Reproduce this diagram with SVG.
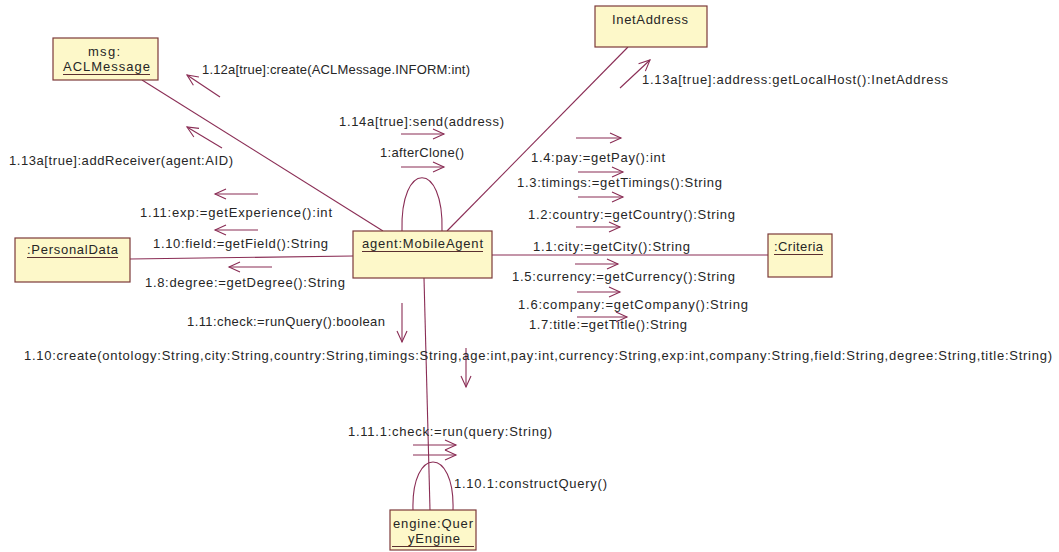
<svg xmlns="http://www.w3.org/2000/svg" width="1059" height="552" viewBox="0 0 1059 552">
  <style>
    .box { fill: #fdf8c9; stroke: #7c3a3a; stroke-width: 1.2; }
    .lnk { fill: none; stroke: #8a2d55; stroke-width: 1.1; }
    .msg { fill: none; stroke: #8a2d55; stroke-width: 1.1; marker-end: url(#open); }
    .ul { stroke: #5a3030; stroke-width: 1; }
    text { font-family: "Liberation Sans", Arial, sans-serif; font-size: 13px; fill: #262626; }
  </style>
  <defs>
    <marker id="open" markerWidth="14" markerHeight="12" refX="12" refY="6" orient="auto" markerUnits="userSpaceOnUse">
      <path d="M1,1 L12,6 L1,11" fill="none" stroke="#8a2d55" stroke-width="1.1"/>
    </marker>
  </defs>
  <rect width="1059" height="552" fill="#ffffff"/>

  <!-- links between objects -->
  <g id="links">
    <line class="lnk" x1="142" y1="80" x2="383" y2="231"/>
    <line class="lnk" x1="628" y1="47" x2="447" y2="231"/>
    <line class="lnk" x1="130" y1="259" x2="353" y2="256"/>
    <line class="lnk" x1="492" y1="255" x2="768" y2="255"/>
    <line class="lnk" x1="424" y1="278" x2="430" y2="510"/>
    <path class="lnk" d="M402,231 C400,160 444,160 442,231"/>
    <path class="lnk" d="M413,510 C411,446 455,446 453,510"/>
  </g>

  <!-- message arrows -->
  <g id="messages">
    <line class="msg" x1="220" y1="97" x2="187" y2="75"/>
    <line class="msg" x1="222" y1="148" x2="187" y2="127"/>
    <line class="msg" x1="620" y1="88" x2="650" y2="60"/>
    <line class="msg" x1="401" y1="134" x2="444" y2="134"/>
    <line class="msg" x1="401" y1="167" x2="444" y2="167"/>
    <line class="msg" x1="576" y1="138" x2="621" y2="138"/>
    <line class="msg" x1="578" y1="172" x2="623" y2="172"/>
    <line class="msg" x1="578" y1="197" x2="623" y2="197"/>
    <line class="msg" x1="576" y1="227" x2="620" y2="227"/>
    <line class="msg" x1="575" y1="264" x2="618" y2="264"/>
    <line class="msg" x1="577" y1="292" x2="620" y2="292"/>
    <line class="msg" x1="577" y1="317" x2="627" y2="317"/>
    <line class="msg" x1="258" y1="194" x2="215" y2="194"/>
    <line class="msg" x1="258" y1="230" x2="215" y2="230"/>
    <line class="msg" x1="272" y1="267" x2="229" y2="267"/>
    <line class="msg" x1="402" y1="303" x2="402" y2="342"/>
    <line class="msg" x1="466" y1="348" x2="466" y2="387"/>
    <line class="msg" x1="413" y1="445" x2="456" y2="445"/>
    <line class="msg" x1="413" y1="455" x2="456" y2="455"/>
  </g>

  <!-- message labels -->
  <g id="labels">
    <text x="202" y="74" textLength="268" lengthAdjust="spacing">1.12a[true]:create(ACLMessage.INFORM:int)</text>
    <text x="9" y="165" textLength="224" lengthAdjust="spacing">1.13a[true]:addReceiver(agent:AID)</text>
    <text x="642" y="84" textLength="306" lengthAdjust="spacing">1.13a[true]:address:getLocalHost():InetAddress</text>
    <text x="339" y="126" textLength="165" lengthAdjust="spacing">1.14a[true]:send(address)</text>
    <text x="380" y="157" textLength="84" lengthAdjust="spacing">1:afterClone()</text>
    <text x="531" y="162" textLength="134" lengthAdjust="spacing">1.4:pay:=getPay():int</text>
    <text x="517" y="187" textLength="205" lengthAdjust="spacing">1.3:timings:=getTimings():String</text>
    <text x="528" y="219" textLength="207" lengthAdjust="spacing">1.2:country:=getCountry():String</text>
    <text x="533" y="251" textLength="157" lengthAdjust="spacing">1.1:city:=getCity():String</text>
    <text x="512" y="281" textLength="223" lengthAdjust="spacing">1.5:currency:=getCurrency():String</text>
    <text x="518" y="309" textLength="230" lengthAdjust="spacing">1.6:company:=getCompany():String</text>
    <text x="529" y="329" textLength="158" lengthAdjust="spacing">1.7:title:=getTitle():String</text>
    <text x="140" y="217" textLength="192" lengthAdjust="spacing">1.11:exp:=getExperience():int</text>
    <text x="153" y="248" textLength="175" lengthAdjust="spacing">1.10:field:=getField():String</text>
    <text x="145" y="287" textLength="200" lengthAdjust="spacing">1.8:degree:=getDegree():String</text>
    <text x="187" y="326" textLength="198" lengthAdjust="spacing">1.11:check:=runQuery():boolean</text>
    <text x="24" y="360" textLength="1028" lengthAdjust="spacing">1.10:create(ontology:String,city:String,country:String,timings:String,age:int,pay:int,currency:String,exp:int,company:String,field:String,degree:String,title:String)</text>
    <text x="348" y="436" textLength="204" lengthAdjust="spacing">1.11.1:check:=run(query:String)</text>
    <text x="454" y="488" textLength="153" lengthAdjust="spacing">1.10.1:constructQuery()</text>
  </g>

  <!-- objects -->
  <g id="msg">
    <rect class="box" x="53" y="38" width="105" height="42"/>
    <text x="88" y="56" textLength="32" lengthAdjust="spacing">msg:</text>
    <text x="63" y="71" textLength="87" lengthAdjust="spacing">ACLMessage</text>
    <line class="ul" x1="63" y1="74.5" x2="150" y2="74.5"/>
  </g>
  <g id="inetAddress">
    <rect class="box" x="595" y="6" width="112" height="41"/>
    <text x="612" y="24" textLength="76" lengthAdjust="spacing">InetAddress</text>
  </g>
  <g id="personalData">
    <rect class="box" x="15" y="238" width="115" height="44"/>
    <text x="27" y="254" textLength="91" lengthAdjust="spacing">:PersonalData</text>
    <line class="ul" x1="27" y1="257.5" x2="118" y2="257.5"/>
  </g>
  <g id="agent">
    <rect class="box" x="353" y="231" width="139" height="47"/>
    <text x="362" y="248" textLength="121" lengthAdjust="spacing">agent:MobileAgent</text>
    <line class="ul" x1="362" y1="251.5" x2="483" y2="251.5"/>
  </g>
  <g id="criteria">
    <rect class="box" x="768" y="234" width="64" height="43"/>
    <text x="774" y="251" textLength="49" lengthAdjust="spacing">:Criteria</text>
    <line class="ul" x1="774" y1="254.5" x2="823" y2="254.5"/>
  </g>
  <g id="engine">
    <rect class="box" x="390" y="510" width="86" height="40"/>
    <text x="393" y="528" textLength="80" lengthAdjust="spacing">engine:Quer</text>
    <text x="408" y="543" textLength="52" lengthAdjust="spacing">yEngine</text>
    <line class="ul" x1="392" y1="546.5" x2="474" y2="546.5"/>
  </g>
</svg>
